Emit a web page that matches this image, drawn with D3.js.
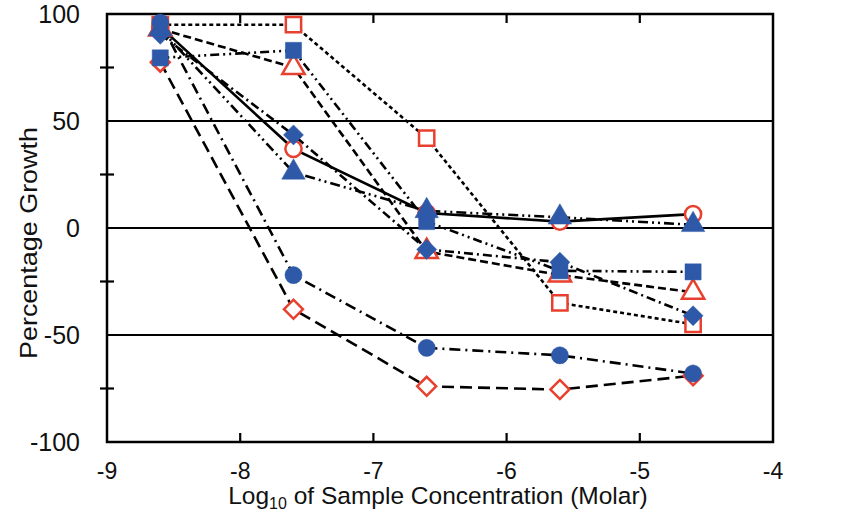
<!DOCTYPE html>
<html>
<head>
<meta charset="utf-8">
<script src="https://cdn.jsdelivr.net/npm/d3@7"></script>
<style>
  body { margin: 0; background: #fff; }
  text { font-family: "Liberation Sans", Arial, sans-serif; fill: #111; }
</style>
</head>
<body>
<div id="chart-area"></div>
<script>
// data
let concentrations = [-8.6, -7.6, -6.6, -5.6, -4.6];
let xTicks = [-9, -8, -7, -6, -5, -4];
let yLabels = [100, 50, 0, -50, -100];
let yMinorTicks = [75, 25, -25, -75];
let gridValues = [50, 0, -50];

let redSquare    = [95, 95, 42, -35, -45];
let redTriangle  = [93, 75, -11, -22, -30];
let redCircle    = [94, 37, 7, 3, 6.5];
let redDiamond   = [77.5, -38, -74, -75.5, -69];
let blueSquare   = [79.5, 83, 3, -20, -20.5];
let blueTriangle = [93, 26, 8, 5, 1.5];
let blueCircle   = [96, -22, -56, -59.5, -68];
let blueDiamond  = [90.5, 43.5, -10, -16, -41];

let red = "#e8402f", blue = "#2e58a8";

// red first, blue on top
let series = [
    {values: redSquare,    shape: "square",   open: true,  dash: "4,3"},
    {values: redTriangle,  shape: "triangle", open: true,  dash: "8,4"},
    {values: redCircle,    shape: "circle",   open: true,  dash: null},
    {values: redDiamond,   shape: "diamond",  open: true,  dash: "12,6"},
    {values: blueSquare,   shape: "square",   open: false, dash: "9,4,2,4,2,4"},
    {values: blueTriangle, shape: "triangle", open: false, dash: "10,4,2,4,2,4"},
    {values: blueCircle,   shape: "circle",   open: false, dash: "11,5,2,5"},
    {values: blueDiamond,  shape: "diamond",  open: false, dash: "9,4,2,4"}
];

let margin = {top: 14, right: 79, bottom: 72, left: 107};
let width = 852 - margin.left - margin.right,
    height = 514 - margin.top - margin.bottom;

let svg = d3.select("#chart-area")
    .append("svg")
    .attr("width", 852)
    .attr("height", 514)
    .append("g")
    .attr("transform", "translate(" + margin.left + "," + margin.top + ")");

let x = d3.scaleLinear().domain([-9, -4]).range([0, width]);
let y = d3.scaleLinear().domain([-100, 100]).range([height, 0]);

// horizontal reference lines
svg.selectAll(".grid")
    .data(gridValues)
    .enter().append("line")
    .attr("x1", 0).attr("x2", width)
    .attr("y1", d => y(d)).attr("y2", d => y(d))
    .attr("stroke", "#000").attr("stroke-width", 2.2);

// frame
svg.append("rect")
    .attr("width", width).attr("height", height)
    .attr("fill", "none").attr("stroke", "#000").attr("stroke-width", 2.5);

// x ticks, inner, top and bottom
let innerX = xTicks.slice(1, -1);
svg.selectAll(".xtb").data(innerX).enter().append("line")
    .attr("x1", d => x(d)).attr("x2", d => x(d))
    .attr("y1", height).attr("y2", height - 9)
    .attr("stroke", "#000").attr("stroke-width", 2.2);
svg.selectAll(".xtt").data(innerX).enter().append("line")
    .attr("x1", d => x(d)).attr("x2", d => x(d))
    .attr("y1", 0).attr("y2", 9)
    .attr("stroke", "#000").attr("stroke-width", 2.2);

// y minor ticks crossing the left edge
svg.selectAll(".yt").data(yMinorTicks).enter().append("line")
    .attr("x1", -7).attr("x2", 7)
    .attr("y1", d => y(d)).attr("y2", d => y(d))
    .attr("stroke", "#000").attr("stroke-width", 2.2);

svg.selectAll(".ylab").data(yLabels).enter().append("text")
    .attr("x", -27).attr("y", d => y(d))
    .attr("dy", "0.36em")
    .attr("text-anchor", "end")
    .style("font-size", "25px")
    .text(d => d);

svg.selectAll(".xlab").data(xTicks).enter().append("text")
    .attr("x", d => x(d)).attr("y", height + 37)
    .attr("text-anchor", "middle")
    .style("font-size", "23px")
    .text(d => d);

// axis titles
let xt = svg.append("text")
    .attr("x", 331).attr("y", height + 62)
    .attr("text-anchor", "middle")
    .style("font-size", "24.5px");
xt.append("tspan").text("Log");
xt.append("tspan").attr("dy", 5).style("font-size", "16px").text("10");
xt.append("tspan").attr("dy", -5).text(" of Sample Concentration (Molar)");

svg.append("text")
    .attr("transform", "translate(-70," + (y(0) + 15) + ") rotate(-90)")
    .attr("text-anchor", "middle")
    .attr("textLength", 232)
    .attr("lengthAdjust", "spacingAndGlyphs")
    .style("font-size", "23px")
    .text("Percentage Growth");

// series lines
let line = d3.line()
    .x((d, i) => x(concentrations[i]))
    .y(d => y(d));

svg.selectAll(".series")
    .data(series)
    .enter().append("path")
    .attr("d", d => line(d.values))
    .attr("fill", "none")
    .attr("stroke", "#000")
    .attr("stroke-width", 2.6)
    .attr("stroke-dasharray", d => d.dash);

// markers
let symbolType = {
    square: d3.symbolSquare,
    triangle: d3.symbolTriangle,
    circle: d3.symbolCircle,
    diamond: d3.symbolSquare
};
let symbolSize = {square: 260, triangle: 240, circle: 230, diamond: 200};

series.forEach(s => {
    let sym = d3.symbol().type(symbolType[s.shape])
        .size(s.open ? symbolSize[s.shape] * 0.9 : symbolSize[s.shape]);
    svg.selectAll(null)
        .data(s.values)
        .enter().append("path")
        .attr("d", sym)
        .attr("transform", (d, i) => "translate(" + x(concentrations[i]) + "," + y(d) + ")" +
            (s.shape == "diamond" ? " rotate(45)" : ""))
        .attr("fill", s.open ? "#fff" : blue)
        .attr("stroke", s.open ? red : blue)
        .attr("stroke-width", s.open ? 2.5 : 0.5);
});
</script>
</body>
</html>
